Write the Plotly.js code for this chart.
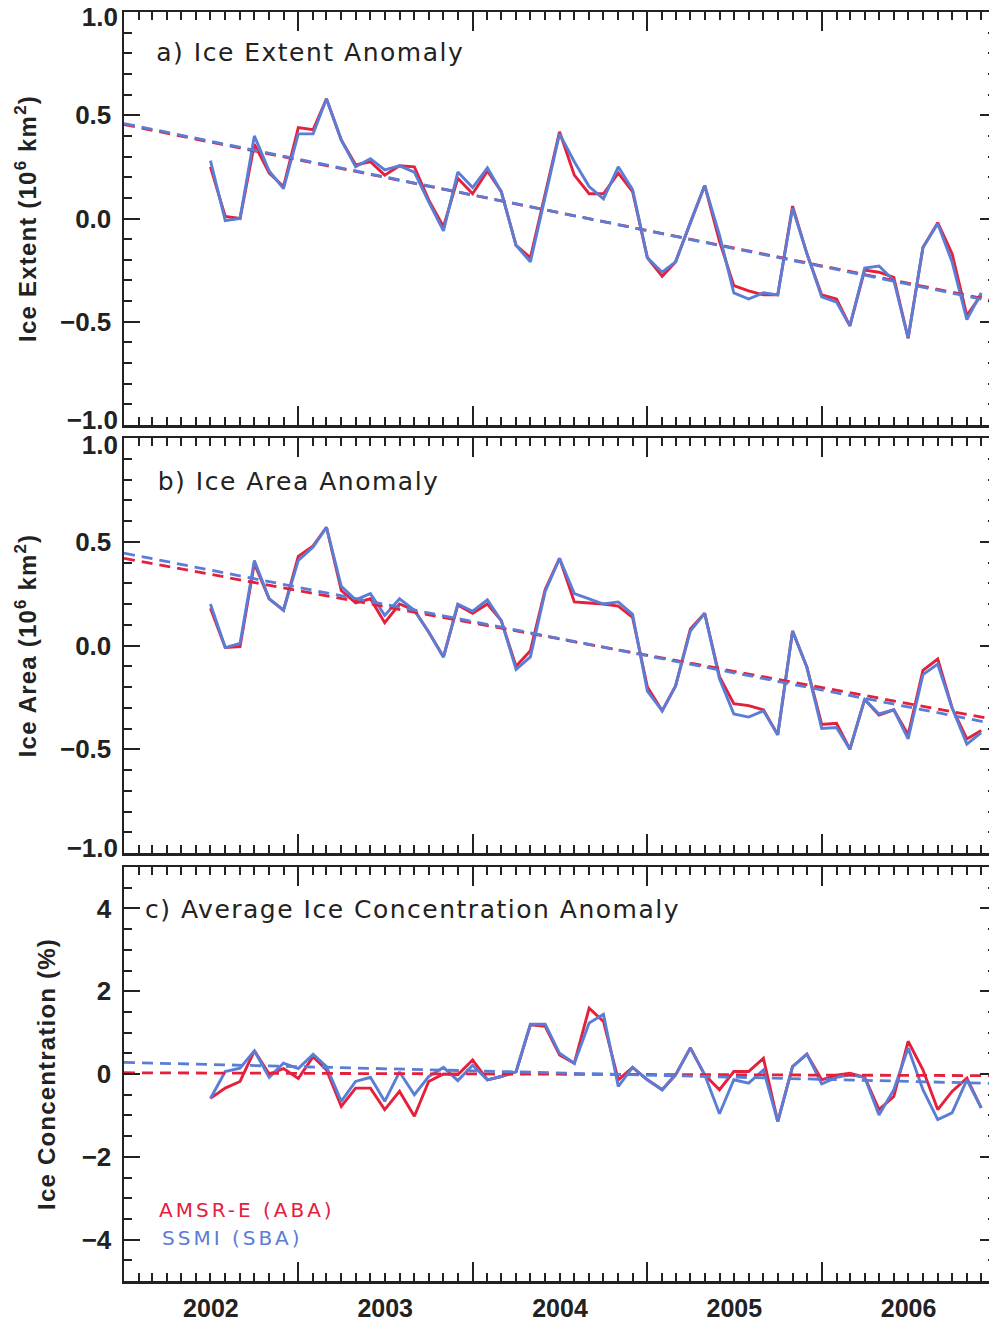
<!DOCTYPE html>
<html>
<head>
<meta charset="utf-8">
<script src="https://cdn.plot.ly/plotly-3.0.1.min.js"></script>
<style>
  html, body { margin:0; padding:0; background:#fff; overflow:hidden; width:989px; height:1327px; }
  #chart { width:1000px; height:1327px; }
  g.annotation[data-index="0"] text, g.annotation[data-index="1"] text, g.annotation[data-index="2"] text { letter-spacing:1.5px; }
  g.annotation[data-index="3"] text, g.annotation[data-index="4"] text { letter-spacing:3px; }
  .ytitle, .y2title, .y3title { letter-spacing:1.2px; }
</style>
</head>
<body>
<div id="chart"></div>
<script>
// ---- data (monthly, Jul 2002 .. Dec 2006) ----
const startYear = 2002, startMonth = 7, nMonths = 54;
const months = [];
for (let i = 0; i < nMonths; i++) {
  const m0 = startMonth - 1 + i;
  const y = startYear + Math.floor(m0 / 12);
  const m = (m0 % 12) + 1;
  months.push(y + '-' + String(m).padStart(2, '0') + '-01');
}

// a) Ice extent anomaly (10^6 km^2)
const extentABA = [0.25,0.01,0.00,0.36,0.22,0.155,0.44,0.43,0.58,0.38,0.26,0.275,0.21,0.255,0.25,0.09,-0.04,0.195,0.12,0.23,0.13,-0.13,-0.19,0.12,0.42,0.21,0.12,0.12,0.22,0.13,-0.19,-0.28,-0.21,-0.02,0.16,-0.11,-0.325,-0.35,-0.37,-0.37,0.06,-0.17,-0.37,-0.39,-0.52,-0.25,-0.26,-0.285,-0.58,-0.14,-0.02,-0.17,-0.47,-0.37];
const extentSBA = [0.28,-0.01,0.00,0.40,0.23,0.145,0.41,0.41,0.58,0.38,0.25,0.29,0.235,0.255,0.225,0.08,-0.06,0.225,0.15,0.245,0.13,-0.13,-0.21,0.10,0.41,0.275,0.155,0.095,0.25,0.14,-0.19,-0.26,-0.21,-0.02,0.16,-0.08,-0.36,-0.39,-0.36,-0.37,0.05,-0.17,-0.38,-0.405,-0.52,-0.24,-0.23,-0.30,-0.58,-0.14,-0.025,-0.21,-0.49,-0.36];

// b) Ice area anomaly (10^6 km^2)
const areaABA = [0.18,-0.01,-0.005,0.395,0.225,0.17,0.43,0.48,0.57,0.265,0.205,0.225,0.11,0.20,0.17,0.065,-0.055,0.195,0.155,0.20,0.12,-0.10,-0.025,0.27,0.42,0.21,0.205,0.20,0.19,0.135,-0.20,-0.315,-0.195,0.08,0.155,-0.15,-0.28,-0.29,-0.31,-0.43,0.07,-0.105,-0.38,-0.375,-0.50,-0.26,-0.335,-0.31,-0.43,-0.12,-0.065,-0.30,-0.45,-0.41];
const areaSBA = [0.20,-0.01,0.01,0.41,0.225,0.17,0.41,0.475,0.57,0.285,0.22,0.25,0.145,0.225,0.17,0.065,-0.055,0.20,0.165,0.22,0.12,-0.115,-0.055,0.26,0.42,0.25,0.225,0.20,0.21,0.15,-0.22,-0.315,-0.195,0.07,0.155,-0.16,-0.33,-0.345,-0.315,-0.43,0.07,-0.105,-0.40,-0.395,-0.50,-0.26,-0.33,-0.31,-0.45,-0.14,-0.09,-0.30,-0.475,-0.42];

// c) Average ice concentration anomaly (%)
const concABA = [-0.59,-0.34,-0.18,0.56,0.0,0.13,-0.11,0.42,0.10,-0.78,-0.34,-0.34,-0.86,-0.42,-1.02,-0.18,0.0,-0.02,0.34,-0.14,-0.06,0.05,1.19,1.15,0.46,0.26,1.59,1.27,-0.14,0.16,-0.14,-0.38,-0.02,0.63,-0.02,-0.38,0.06,0.06,0.38,-1.15,0.18,0.48,-0.14,-0.03,0.02,-0.08,-0.86,-0.54,0.79,0.10,-0.86,-0.42,-0.10,-0.82];
const concSBA = [-0.59,0.06,0.14,0.56,-0.08,0.26,0.13,0.48,0.18,-0.66,-0.18,-0.08,-0.66,0.05,-0.50,-0.06,0.16,-0.16,0.21,-0.14,-0.06,0.06,1.20,1.20,0.50,0.26,1.23,1.44,-0.30,0.16,-0.14,-0.38,-0.02,0.63,-0.02,-0.96,-0.14,-0.22,0.10,-1.15,0.18,0.48,-0.24,-0.08,-0.02,-0.08,-0.99,-0.38,0.63,-0.38,-1.10,-0.94,-0.14,-0.82];

// linear trend lines (value at start and end of axis)
const trendDates = ['2002-01-01', '2007-01-01'];
const extentTrendABA = [0.455, -0.40];
const extentTrendSBA = [0.46, -0.405];
const areaTrendABA = [0.42, -0.358];
const areaTrendSBA = [0.445, -0.379];
const concTrendABA = [0.03, -0.04];
const concTrendSBA = [0.28, -0.23];

// axis labels
const yearTicks = ['2002-01-01','2003-01-01','2004-01-01','2005-01-01','2006-01-01','2007-01-01'];
const yearMid = ['2002-07-02','2003-07-02','2004-07-02','2005-07-02','2006-07-02'];
const yearLabels = ['2002','2003','2004','2005','2006'];
const anomTicks = [-0.5, 0, 0.5];
const anomLabels = ['\u22120.5', '0.0', '0.5'];
const anomTop = 1, anomTopLabel = '1.0';
const anomBottom = -1, anomBottomLabel = '\u22121.0';
const concTicks = [-4, -2, 0, 2, 4];
const concLabels = ['\u22124', '\u22122', '0', '2', '4'];
const panelTitles = ['a) Ice Extent Anomaly','b) Ice Area Anomaly','c) Average Ice Concentration Anomaly'];
const seriesNames = ['AMSR-E (ABA)','SSMI (SBA)'];

// ---- style ----
const RED = '#e5203c', BLUE = '#5a7dd6', INK = '#222222';
const xRange = ['2002-01-01', '2007-01-01'];
const H = 1327;
const domA = [1 - 425 / H, 1 - 12 / H];
const domB = [1 - 853 / H, 1 - 438 / H];
const domC = [1 - 1281 / H, 1 - 867 / H];

function panelTraces(xa, ya, aba, sba, tAba, tSba) {
  return [
    {x: months, y: aba, xaxis: xa, yaxis: ya, mode: 'lines', name: seriesNames[0], line: {color: RED, width: 2.9}},
    {x: months, y: sba, xaxis: xa, yaxis: ya, mode: 'lines', name: seriesNames[1], line: {color: BLUE, width: 2.9}},
    {x: trendDates, y: tAba, xaxis: xa, yaxis: ya, mode: 'lines', line: {color: RED, width: 2.8, dash: '11px,7px'}},
    {x: trendDates, y: tSba, xaxis: xa, yaxis: ya, mode: 'lines', line: {color: BLUE, width: 2.8, dash: '11px,7px'}}
  ];
}
// empty carrier traces so that the label-only overlay axes get drawn
function carrier(xa, ya) {
  return {x: trendDates, y: [null, null], xaxis: xa, yaxis: ya, mode: 'lines', hoverinfo: 'skip', showlegend: false};
}

const data = [].concat(
  panelTraces('x', 'y', extentABA, extentSBA, extentTrendABA, extentTrendSBA),
  panelTraces('x2', 'y2', areaABA, areaSBA, areaTrendABA, areaTrendSBA),
  panelTraces('x3', 'y3', concABA, concSBA, concTrendABA, concTrendSBA),
  [carrier('x4', 'y3'), carrier('x', 'y4'), carrier('x', 'y5'), carrier('x2', 'y6'), carrier('x2', 'y7')]
);

function xBase(anchor) {
  return {
    anchor: anchor, type: 'date', range: xRange, domain: [0, 1],
    tickmode: 'array', tickvals: yearTicks, showticklabels: false,
    ticks: 'inside', ticklen: 19, tickwidth: 2, tickcolor: INK,
    mirror: 'ticks', showline: true, linewidth: 2.5, linecolor: INK,
    showgrid: false, zeroline: false,
    minor: {tickmode: 'linear', tick0: '2002-01-01', dtick: 'M1', ticks: 'inside', ticklen: 8, tickwidth: 2, tickcolor: INK, showgrid: false}
  };
}
const tickFont = {family: 'Liberation Sans, Arial, sans-serif', size: 26, weight: 'bold', color: INK};
const titleFont = {family: 'Liberation Sans, Arial, sans-serif', size: 24, weight: 'bold', color: INK};
function yBase(domain, range, tickvals, ticktext, minorDtick, title, standoff) {
  return {
    domain: domain, range: range, tickmode: 'array', tickvals: tickvals, ticktext: ticktext,
    ticks: 'inside', ticklen: 16, tickwidth: 2, tickcolor: INK,
    mirror: 'ticks', showline: true, linewidth: 2.5, linecolor: INK,
    showgrid: false, zeroline: false, tickfont: tickFont, ticklabelstandoff: 5,
    minor: {tickmode: 'linear', tick0: 0, dtick: minorDtick, ticks: 'inside', ticklen: 8, tickwidth: 2, tickcolor: INK, showgrid: false},
    title: {text: title, font: titleFont, standoff: standoff}
  };
}
function yLabelAxis(overlay, anchor, domain, range, val, text, shift) {
  return {
    overlaying: overlay, anchor: anchor, side: 'left', domain: domain, range: range,
    tickmode: 'array', tickvals: [val], ticktext: [text],
    ticks: '', showline: false, showgrid: false, zeroline: false,
    tickfont: tickFont, ticklabelstandoff: 5, ticklabelshift: shift
  };
}

const layout = {
  width: 1000, height: H,
  margin: {l: 124, r: 4, t: 0, b: 0},
  paper_bgcolor: '#ffffff', plot_bgcolor: '#ffffff',
  showlegend: false,
  xaxis: xBase('y'),
  xaxis2: xBase('y2'),
  xaxis3: xBase('y3'),
  xaxis4: {
    overlaying: 'x3', anchor: 'y3', side: 'bottom', type: 'date', range: xRange,
    tickmode: 'array', tickvals: yearMid, ticktext: yearLabels,
    ticks: '', showline: false, showgrid: false, zeroline: false,
    tickfont: {family: 'Liberation Sans, Arial, sans-serif', size: 25, weight: 'bold', color: INK},
    ticklabelstandoff: 10
  },
  yaxis: yBase(domA, [-1, 1], anomTicks, anomLabels, 0.1, 'Ice Extent (10<sup>6</sup> km<sup>2</sup>)', 17),
  yaxis2: yBase(domB, [-1, 1], anomTicks, anomLabels, 0.1, 'Ice Area (10<sup>6</sup> km<sup>2</sup>)', 17),
  yaxis3: yBase(domC, [-5, 5], concTicks, concLabels, 0.5, 'Ice Concentration (%)', 19),
  yaxis4: yLabelAxis('y', 'x', domA, [-1, 1], anomTop, anomTopLabel, 5),
  yaxis5: yLabelAxis('y', 'x', domA, [-1, 1], anomBottom, anomBottomLabel, -5),
  yaxis6: yLabelAxis('y2', 'x2', domB, [-1, 1], anomTop, anomTopLabel, 7),
  yaxis7: yLabelAxis('y2', 'x2', domB, [-1, 1], anomBottom, anomBottomLabel, -5),
  annotations: [
    {text: panelTitles[0], xref: 'paper', yref: 'paper', x: 46 / 872, y: 1 - 53 / H, xanchor: 'left', yanchor: 'middle', showarrow: false, font: {family: 'DejaVu Sans', size: 25, color: INK}},
    {text: panelTitles[1], xref: 'paper', yref: 'paper', x: 46 / 872, y: 1 - 481 / H, xanchor: 'left', yanchor: 'middle', showarrow: false, font: {family: 'DejaVu Sans', size: 25, color: INK}},
    {text: panelTitles[2], xref: 'paper', yref: 'paper', x: 46 / 872, y: 1 - 909 / H, xanchor: 'left', yanchor: 'middle', showarrow: false, font: {family: 'DejaVu Sans', size: 25, color: INK}},
    {text: seriesNames[0], xref: 'paper', yref: 'paper', x: 51 / 872, y: 1 - 1210 / H, xanchor: 'left', yanchor: 'middle', showarrow: false, font: {family: 'DejaVu Sans', size: 20, color: RED}},
    {text: seriesNames[1], xref: 'paper', yref: 'paper', x: 51 / 872, y: 1 - 1238 / H, xanchor: 'left', yanchor: 'middle', showarrow: false, font: {family: 'DejaVu Sans', size: 20, color: BLUE}}
  ]
};

Plotly.newPlot('chart', data, layout, {displayModeBar: false, staticPlot: true});
</script>
</body>
</html>
